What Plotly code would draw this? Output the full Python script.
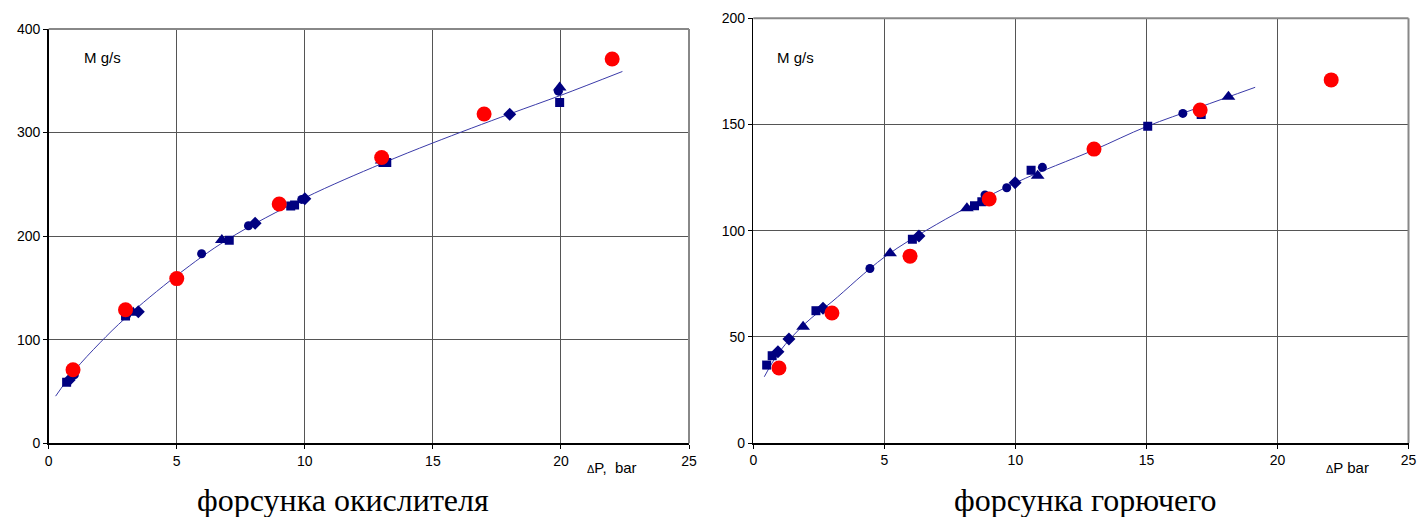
import plotly.graph_objects as go

# ---------------- Left chart: форсунка окислителя ----------------
L_red_x = [0.95, 3.0, 5.0, 9.0, 13.0, 17.0, 22.0]
L_red_y = [71, 129, 159, 231, 276, 318, 371]

L_sq_x = [0.7, 3.0, 7.05, 9.45, 9.6, 13.05, 13.2, 19.95]
L_sq_y = [59, 123, 196, 229, 230, 271, 271, 329]
L_ci_x = [1.0, 3.05, 5.97, 7.8, 9.88, 19.9]
L_ci_y = [66, 124, 183, 210, 235.5, 340]
L_tr_x = [3.3, 6.76, 13.0, 19.95]
L_tr_y = [126, 196.3, 273, 343.6]
L_di_x = [0.8, 3.5, 8.06, 10.0, 18.0]
L_di_y = [61, 127, 212.4, 236, 317.6]

L_fit_x = [0.27, 1.0, 2.0, 3.0, 5.0, 7.0, 10.0, 13.0, 15.0, 18.0, 20.0, 22.4]
L_fit_y = [45.5, 70, 97, 121, 162, 197, 237, 270, 290, 318, 336, 359]

# ---------------- Right chart: форсунка горючего ----------------
R_red_x = [0.98, 3.0, 5.98, 9.0, 13.0, 17.05, 22.05]
R_red_y = [35.3, 61.2, 88, 114.9, 138.4, 156.8, 171]

R_sq_x = [0.51, 0.72, 2.39, 6.07, 8.44, 8.72, 10.6, 15.05, 17.09]
R_sq_y = [36.7, 41.1, 62.3, 95.9, 111.7, 113.6, 128.5, 149.2, 154.7]
R_ci_x = [4.45, 8.84, 9.67, 11.03, 16.39]
R_ci_y = [82.2, 116.8, 120.2, 129.8, 155.2]
R_tr_x = [1.9, 5.22, 8.15, 10.85, 18.13]
R_tr_y = [54.8, 89.3, 110.5, 125.8, 163]
R_di_x = [0.94, 1.36, 2.66, 6.32, 9.99]
R_di_y = [43, 49, 63.4, 97.5, 122.6]

R_fit_x = [0.42, 1.0, 2.0, 3.0, 5.0, 7.0, 10.0, 13.0, 15.0, 17.0, 19.15]
R_fit_y = [31.2, 43, 56.5, 66.5, 87.5, 103, 122.5, 138, 149, 158, 167.5]

NAVY = "#000080"
RED = "#FF0000"
LINE = "#3a3aa8"

fig = go.Figure()


def add_panel(xa, ya, fx, fy, sq, ci, tr, di, red):
    fig.add_trace(go.Scatter(x=fx, y=fy, mode="lines", line=dict(color=LINE, width=1, shape="spline"),
                             xaxis=xa, yaxis=ya, hoverinfo="skip"))
    for (xs, ys), sym, sz in [(sq, "square", 9), (ci, "circle", 9), (tr, "triangle-up", 12), (di, "diamond", 10)]:
        fig.add_trace(go.Scatter(x=xs, y=ys, mode="markers",
                                 marker=dict(symbol=sym, size=sz, color=NAVY, line=dict(width=0)),
                                 xaxis=xa, yaxis=ya))
    fig.add_trace(go.Scatter(x=red[0], y=red[1], mode="markers",
                             marker=dict(symbol="circle", size=15, color=RED, line=dict(width=0)),
                             xaxis=xa, yaxis=ya))


add_panel("x", "y", L_fit_x, L_fit_y, (L_sq_x, L_sq_y), (L_ci_x, L_ci_y), (L_tr_x, L_tr_y),
          (L_di_x, L_di_y), (L_red_x, L_red_y))
add_panel("x2", "y2", R_fit_x, R_fit_y, (R_sq_x, R_sq_y), (R_ci_x, R_ci_y), (R_tr_x, R_tr_y),
          (R_di_x, R_di_y), (R_red_x, R_red_y))

# the page's body margin is removed (post_script), so the figure fills the 1421x517 window
OFF = 0
W, H = 1421 - OFF, 517 - OFF


def px(x):
    return (x - OFF) / W


def py(y):
    return 1 - (y - OFF) / H


tickfont = dict(family="Liberation Sans, Arial", size=14, color="#000")
axis_common = dict(showgrid=True, gridcolor="#555555", gridwidth=1, zeroline=False,
                   showline=True, linecolor="#000", linewidth=1.5, ticks="outside", ticklen=4,
                   tickcolor="#000", tickfont=tickfont, mirror=False, fixedrange=True,
                   automargin=False)

L_dom_x = [px(48.7), px(689)]
L_dom_y = [py(443.3), py(29)]
R_dom_x = [px(753.3), px(1408.5)]
R_dom_y = [py(443), py(18.3)]

fig.update_layout(
    width=W, height=H, margin=dict(l=0, r=0, t=0, b=0, autoexpand=False),
    paper_bgcolor="white", plot_bgcolor="white", showlegend=False,
    xaxis=dict(domain=L_dom_x, range=[0, 25], dtick=5, anchor="y", **axis_common),
    yaxis=dict(domain=L_dom_y, range=[0, 400], dtick=100, anchor="x", **axis_common),
    xaxis2=dict(domain=R_dom_x, range=[0, 25], dtick=5, anchor="y2", **axis_common),
    yaxis2=dict(domain=R_dom_y, range=[0, 200], dtick=50, anchor="x2", **axis_common),
)

# gray border on top/right
for dx, dy in [(L_dom_x, L_dom_y), (R_dom_x, R_dom_y)]:
    fig.add_shape(type="line", xref="paper", yref="paper", x0=dx[0], x1=dx[1], y0=dy[1], y1=dy[1],
                  line=dict(color="#888888", width=2))
    fig.add_shape(type="line", xref="paper", yref="paper", x0=dx[1], x1=dx[1], y0=dy[0], y1=dy[1],
                  line=dict(color="#888888", width=2))

lab = dict(family="Liberation Sans, Arial", size=15, color="#000")
fig.add_annotation(x=px(82), y=py(57), xref="paper", yref="paper", text="M g/s",
                   showarrow=False, xanchor="left", yanchor="middle", font=lab)
fig.add_annotation(x=px(775), y=py(57), xref="paper", yref="paper", text="M g/s",
                   showarrow=False, xanchor="left", yanchor="middle", font=lab)
fig.add_annotation(x=px(585), y=py(467), xref="paper", yref="paper",
                   text="<span style='font-size:11px'>Δ</span>P,  bar",
                   showarrow=False, xanchor="left", yanchor="middle", font=lab)
fig.add_annotation(x=px(1324), y=py(467), xref="paper", yref="paper",
                   text="<span style='font-size:11px'>Δ</span>P bar",
                   showarrow=False, xanchor="left", yanchor="middle", font=lab)

cap = dict(family="Liberation Serif, Times New Roman", size=32, color="#000")
fig.add_annotation(x=px(343), y=py(500), xref="paper", yref="paper", text="форсунка окислителя",
                   showarrow=False, xanchor="center", yanchor="middle", font=cap)
fig.add_annotation(x=px(1085), y=py(500), xref="paper", yref="paper", text="форсунка горючего",
                   showarrow=False, xanchor="center", yanchor="middle", font=cap)

fig.write_html(
    "out.html",
    config={"displayModeBar": False, "staticPlot": True},
    post_script="document.body.style.margin='0';document.documentElement.style.overflow='hidden';",
)
